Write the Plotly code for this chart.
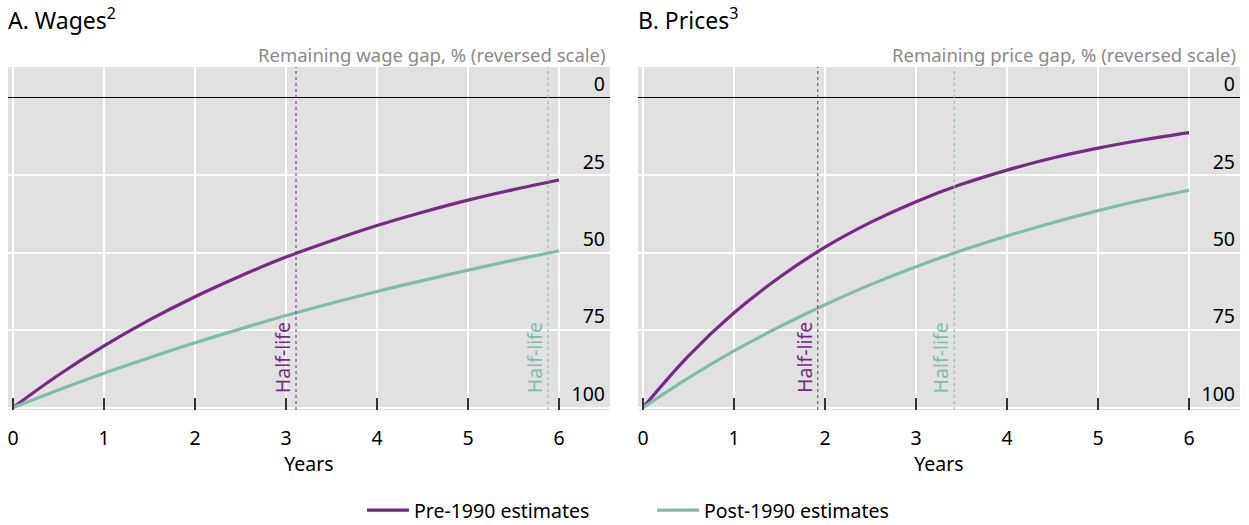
import plotly.graph_objects as go

years = [0, 0.5, 1, 1.5, 2, 2.5, 3, 3.5, 4, 4.5, 5, 5.5, 6]
wages_pre = [100, 89.5, 80.1, 71.7, 64.2, 57.5, 51.4, 46.1, 41.2, 36.9, 33.0, 29.6, 26.5]
wages_post = [100, 94.3, 88.9, 83.9, 79.1, 74.6, 70.3, 66.3, 62.5, 59.0, 55.6, 52.4, 49.4]
prices_pre = [100, 83.3, 69.4, 57.9, 48.2, 40.2, 33.5, 27.9, 23.3, 19.4, 16.2, 13.5, 11.2]
prices_post = [100, 90.4, 81.7, 73.9, 66.8, 60.3, 54.5, 49.3, 44.6, 40.3, 36.4, 32.9, 29.8]
half_life_wages = {"pre": 3.11, "post": 5.88}
half_life_prices = {"pre": 1.92, "post": 3.42}
x_ticks = [0, 1, 2, 3, 4, 5, 6]
y_ticks = [0, 25, 50, 75, 100]
series_names = ["Pre-1990 estimates", "Post-1990 estimates"]
panel_titles = ["A. Wages<sup>2</sup>", "B. Prices<sup>3</sup>"]
panel_subtitles = ["Remaining wage gap, % (reversed scale)", "Remaining price gap, % (reversed scale)"]

PURPLE = "#762a83"
TEAL = "#80bda8"
FONT = "Noto Sans"
FS = 19.5

fig = go.Figure()
panels = [
    (wages_pre, wages_post, half_life_wages, "x", "y"),
    (prices_pre, prices_post, half_life_prices, "x2", "y2"),
]
for i, (pre, post, hl, xa, ya) in enumerate(panels):
    fig.add_trace(go.Scatter(x=years, y=pre, mode="lines", line=dict(color=PURPLE, width=3.2, shape="spline"),
                             name=series_names[0], showlegend=(i == 0), xaxis=xa, yaxis=ya))
    fig.add_trace(go.Scatter(x=years, y=post, mode="lines", line=dict(color=TEAL, width=3.2, shape="spline"),
                             name=series_names[1], showlegend=(i == 0), xaxis=xa, yaxis=ya))
    for key, col in (("pre", PURPLE), ("post", TEAL)):
        fig.add_shape(type="line", xref=xa, yref=ya + " domain", x0=hl[key], x1=hl[key], y0=0, y1=1,
                      line=dict(color=col, width=1, dash="dot"))
        fig.add_annotation(xref=xa, yref=ya, x=hl[key], y=96, text="Half-life", textangle=-90,
                           showarrow=False, xanchor="right", yanchor="bottom", xshift=2,
                           font=dict(family=FONT, size=FS, color=col))

x_range = [-0.055, 6.56]
y_range = [100.8, -10]
axis_common_x = dict(range=x_range, tickvals=x_ticks, ticks="inside", ticklen=12, tickwidth=1.5,
                     tickcolor="#333333", showgrid=True, gridcolor="white", gridwidth=1.5, zeroline=False,
                     showline=False, automargin=False, ticklabelstandoff=14,
                     tickfont=dict(family=FONT, size=FS, color="black"),
                     title=dict(text="Years", font=dict(family=FONT, size=FS, color="black"), standoff=6))
axis_common_y = dict(range=y_range, tickvals=y_ticks, side="right", ticklabelposition="inside top",
                     ticks="", showgrid=True, gridcolor="white", gridwidth=1.5, zeroline=True,
                     zerolinecolor="black", zerolinewidth=1.3, showline=False, automargin=False,
                     ticklabelstandoff=2, tickfont=dict(family=FONT, size=FS, color="black"))

fig.update_layout(
    width=1249, height=525,
    margin=dict(l=8, r=9, t=67, b=114.5, autoexpand=False),
    paper_bgcolor="white", plot_bgcolor="#e1e1e1",
    font=dict(family=FONT, size=FS, color="black"),
    xaxis=dict(domain=[0, 0.4886], anchor="y", **axis_common_x),
    yaxis=dict(domain=[0, 1], anchor="x", **axis_common_y),
    xaxis2=dict(domain=[0.5114, 1], anchor="y2", **axis_common_x),
    yaxis2=dict(domain=[0, 1], anchor="x2", **axis_common_y),
    legend=dict(orientation="h", x=0.5227, xanchor="center", y=-0.2926, yanchor="middle",
                font=dict(family=FONT, size=FS, color="black"), itemwidth=42, tracegroupgap=0,
                entrywidth=233),
    showlegend=True,
)

for i, (xa, d0, d1) in enumerate([("x", 0, 0.4886), ("x2", 0.5114, 1)]):
    fig.add_annotation(xref="paper", yref="paper", x=d0, y=1, yshift=48, text=panel_titles[i],
                       showarrow=False, xanchor="left", yanchor="middle", xshift=-2,
                       font=dict(family=FONT, size=23, color="black"))
    fig.add_annotation(xref="paper", yref="paper", x=d1, y=1, yshift=13, text=panel_subtitles[i],
                       showarrow=False, xanchor="right", yanchor="middle", xshift=-2,
                       font=dict(family=FONT, size=18.5, color="#8a8a8a"))

fig.write_html("out.html", config={"displayModeBar": False},
               post_script="document.body.style.margin='0';")
